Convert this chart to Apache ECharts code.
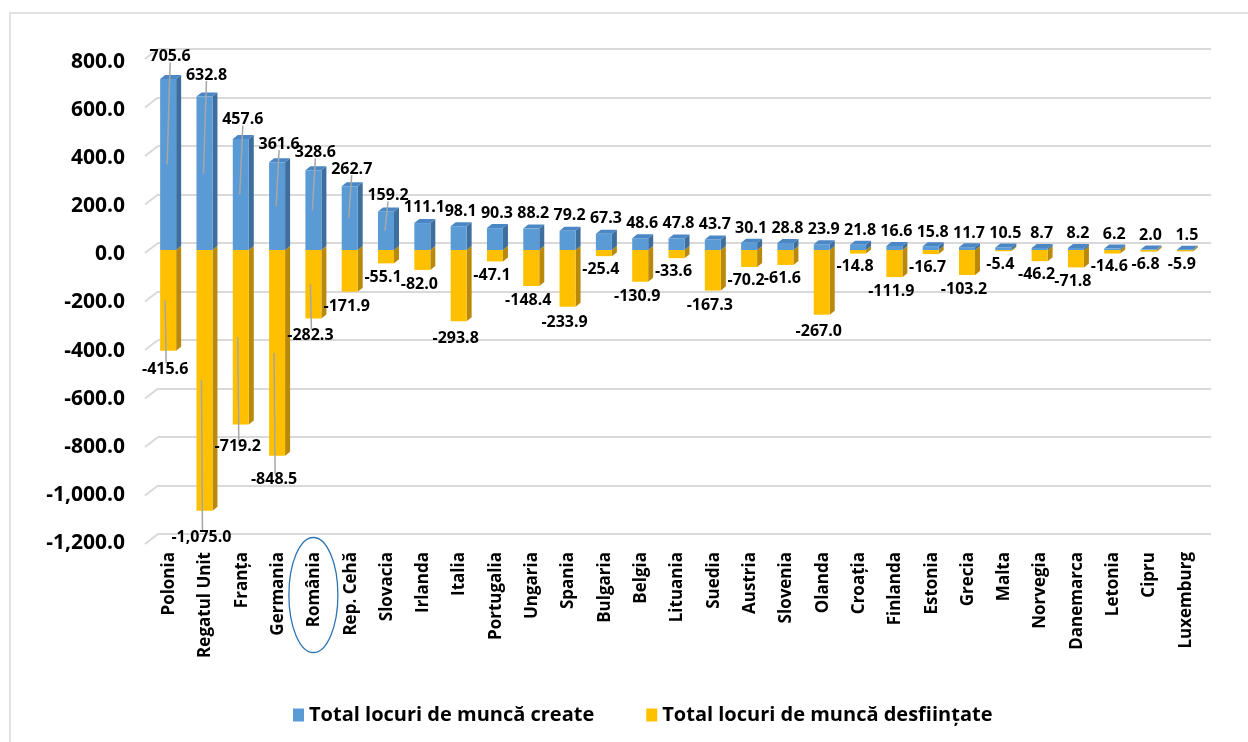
<!DOCTYPE html>
<html>
<head>
<meta charset="utf-8">
<script src="https://cdn.jsdelivr.net/npm/echarts@6/dist/echarts.min.js"></script>
<style>
html,body{margin:0;padding:0;background:#fff;}
#c{width:1248px;height:742px;}
</style>
</head>
<body>
<div id="c"></div>
<script>
const categories = ['Polonia','Regatul Unit','Franța','Germania','România','Rep. Cehă','Slovacia','Irlanda','Italia','Portugalia','Ungaria','Spania','Bulgaria','Belgia','Lituania','Suedia','Austria','Slovenia','Olanda','Croația','Finlanda','Estonia','Grecia','Malta','Norvegia','Danemarca','Letonia','Cipru','Luxemburg'];
const created = [705.6,632.8,457.6,361.6,328.6,262.7,159.2,111.1,98.1,90.3,88.2,79.2,67.3,48.6,47.8,43.7,30.1,28.8,23.9,21.8,16.6,15.8,11.7,10.5,8.7,8.2,6.2,2.0,1.5];
const destroyed = [-415.6,-1075.0,-719.2,-848.5,-282.3,-171.9,-55.1,-82.0,-293.8,-47.1,-148.4,-233.9,-25.4,-130.9,-33.6,-167.3,-70.2,-61.6,-267.0,-14.8,-111.9,-16.7,-103.2,-5.4,-46.2,-71.8,-14.6,-6.8,-5.9];
const yTicks = [800,600,400,200,0,-200,-400,-600,-800,-1000,-1200];
const seriesNames = ['Total locuri de muncă create','Total locuri de muncă desființate'];

const FONT = '"Open Sans", "Noto Sans", sans-serif';
const fmt = v => v.toLocaleString('en-US',{minimumFractionDigits:1,maximumFractionDigits:1});
const LEADER = '#A6A6A6';

function makeRender(colors, positive, leaderCount){
  return function(params, api){
    const i = api.value(0), v = api.value(1);
    const p0 = api.coord([i, 0]);
    const p1 = api.coord([i, v]);
    const pm = api.coord([i, v/2]);
    const bw = 16, dx = 5, dy = 4;
    const x0 = p0[0] - bw/2 - 1, x1 = x0 + bw;
    const yTop = Math.min(p0[1], p1[1]), yBot = Math.max(p0[1], p1[1]);
    const ch = [];
    ch.push({type:'polygon', shape:{points:[[x1,yTop],[x1+dx,yTop-dy],[x1+dx,yBot-dy],[x1,yBot]]}, style:{fill:colors[1]}});
    if (positive) {
      ch.push({type:'polygon', shape:{points:[[x0,yTop],[x0+dx,yTop-dy],[x1+dx,yTop-dy],[x1,yTop]]}, style:{fill:colors[2]}});
    }
    ch.push({type:'rect', shape:{x:x0, y:yTop, width:bw, height:Math.max(yBot-yTop,0.5)}, style:{fill:colors[0]}});
    const font = 'bold 16px ' + FONT;
    if (positive) {
      const off = 6 + Math.abs(v) * 0.012;
      const ly = yTop - off;
      if (i < leaderCount) {
        ch.push({type:'line', shape:{x1:p0[0]+1, y1:ly-2, x2:pm[0]-2, y2:pm[1]}, style:{stroke:LEADER, lineWidth:1.5}, z2:5});
      }
      ch.push({type:'text', x:p0[0]+1, y:ly, style:{text:fmt(v), fill:'#000', font:font, textAlign:'center', textVerticalAlign:'bottom'}, z2:10});
    } else {
      const off = 5 + Math.abs(v) * 0.013;
      const ly = yBot + off;
      if (i < leaderCount) {
        ch.push({type:'line', shape:{x1:pm[0]-4, y1:pm[1], x2:p0[0]-3, y2:ly+2}, style:{stroke:LEADER, lineWidth:1.5}, z2:5});
      }
      ch.push({type:'text', x:p0[0]-4, y:ly, style:{text:fmt(v), fill:'#000', font:font, textAlign:'center', textVerticalAlign:'top'}, z2:10});
    }
    return {type:'group', children:ch};
  };
}

const chart = echarts.init(document.getElementById('c'), null, {renderer:'canvas'});
const option = {
  backgroundColor:'#fff',
  animation:false,
  grid:[
    {left:151, right:44, top:56, height:485},
    {left:158, right:37, top:49, height:485},
    {left:151, right:44, top:62, height:481}
  ],
  legend:{
    data:seriesNames,
    left:288, top:700,
    icon:'rect', itemWidth:11, itemHeight:13, itemGap:52,
    textStyle:{fontFamily:FONT, fontWeight:'bold', fontSize:20, color:'#000'}
  },
  xAxis:[
    {type:'category', gridIndex:0, data:categories,
     axisLine:{show:false}, axisTick:{show:false},
     axisLabel:{rotate:90, margin:11, interval:0, color:'#000', fontFamily:FONT, fontWeight:'bold', fontSize:17}},
    {type:'category', gridIndex:1, data:categories, show:false},
    {type:'category', gridIndex:2, data:categories, show:false}
  ],
  yAxis:[
    {type:'value', gridIndex:0, min:-1200, max:800, interval:200,
     axisLine:{show:false}, axisTick:{show:false}, splitLine:{show:false}, axisLabel:{show:false}},
    {type:'value', gridIndex:1, min:-1200, max:800, interval:200,
     axisLine:{show:false}, axisTick:{show:false}, axisLabel:{show:false},
     splitLine:{show:true, lineStyle:{color:'#D9D9D9', width:2}}},
    {type:'value', gridIndex:2, min:-1200, max:800, interval:200,
     axisLine:{show:false}, axisTick:{show:false}, splitLine:{show:false},
     axisLabel:{margin:26, color:'#000', fontFamily:FONT, fontWeight:'bold', fontSize:21, formatter:v=>fmt(v)}}
  ],
  series:[
    {name:seriesNames[1], type:'custom', xAxisIndex:0, yAxisIndex:0,
     itemStyle:{color:'#FFC000'},
     renderItem:makeRender(['#FFC000','#B8890A','#FFD24D'], false, 5),
     encode:{x:0,y:1},
     data:destroyed.map((v,i)=>[i,v]), z:2},
    {name:seriesNames[0], type:'custom', xAxisIndex:0, yAxisIndex:0,
     itemStyle:{color:'#5B9BD5'},
     renderItem:makeRender(['#5B9BD5','#3E6E9E','#4A87C4'], true, 7),
     encode:{x:0,y:1},
     data:created.map((v,i)=>[i,v]), z:3}
  ]
};
chart.setOption(option);

// decorations computed from the axes
const g = [];
g.push({type:'rect', shape:{x:10, y:13, width:1300, height:800}, style:{fill:'none', stroke:'#D9D9D9', lineWidth:1.5}, z:-1, silent:true});
yTicks.forEach(t => {
  const y = chart.convertToPixel({yAxisIndex:1}, t);
  g.push({type:'line', shape:{x1:145, y1:y+10, x2:158, y2:y}, style:{stroke:'#D9D9D9', lineWidth:2}, z:0, silent:true});
});
const rp = chart.convertToPixel({xAxisIndex:0, yAxisIndex:0}, ['România', -1200]);
g.push({type:'ellipse', shape:{cx:rp[0]-1, cy:rp[1]+54, rx:24.5, ry:57.5}, style:{fill:'none', stroke:'#2E75B6', lineWidth:1.3}, z:100, silent:true});
chart.setOption({graphic:g});
</script>
</body>
</html>
